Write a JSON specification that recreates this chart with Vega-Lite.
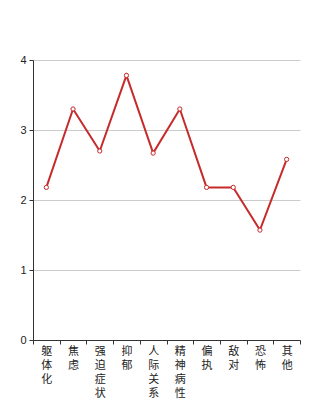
{
  "$schema": "https://vega.github.io/schema/vega-lite/v6.json",
  "width": 267,
  "height": 280,
  "autosize": {"type": "none"},
  "padding": {"left": 33, "top": 60, "right": 34, "bottom": 60},
  "background": "white",
  "data": {"values": [
    {"factor": "躯体化", "score": 2.18},
    {"factor": "焦虑", "score": 3.3},
    {"factor": "强迫症状", "score": 2.7},
    {"factor": "抑郁", "score": 3.78},
    {"factor": "人际关系", "score": 2.67},
    {"factor": "精神病性", "score": 3.3},
    {"factor": "偏执", "score": 2.18},
    {"factor": "敌对", "score": 2.18},
    {"factor": "恐怖", "score": 1.57},
    {"factor": "其他", "score": 2.58}
  ]},
  "config": {
    "view": {"stroke": null},
    "axis": {"labelFont": "Noto Sans CJK SC", "labelColor": "#222", "domainColor": "#333", "tickColor": "#333", "tickSize": 4, "labelFontSize": 11}
  },
  "encoding": {
    "x": {"field": "factor", "type": "nominal", "sort": null,
      "scale": {"paddingInner": 0, "paddingOuter": 0},
      "axis": {"title": null, "labelAngle": 0, "labelAlign": "center", "labelBaseline": "top",
        "labelExpr": "split(datum.label, '')", "labelLineHeight": 14, "tickBand": "extent",
        "labelPadding": 1, "grid": false, "labelOverlap": false}},
    "y": {"field": "score", "type": "quantitative",
      "scale": {"domain": [0, 4]},
      "axis": {"title": null, "values": [0, 1, 2, 3, 4], "gridColor": "#ccc", "labelFont": "Liberation Sans", "labelPadding": 3}}
  },
  "layer": [
    {"mark": {"type": "line", "color": "#c62b2b", "strokeWidth": 2}},
    {"mark": {"type": "point", "shape": "circle", "filled": true, "fill": "white", "stroke": "#c62b2b", "strokeWidth": 1, "size": 18, "opacity": 1}}
  ]
}
